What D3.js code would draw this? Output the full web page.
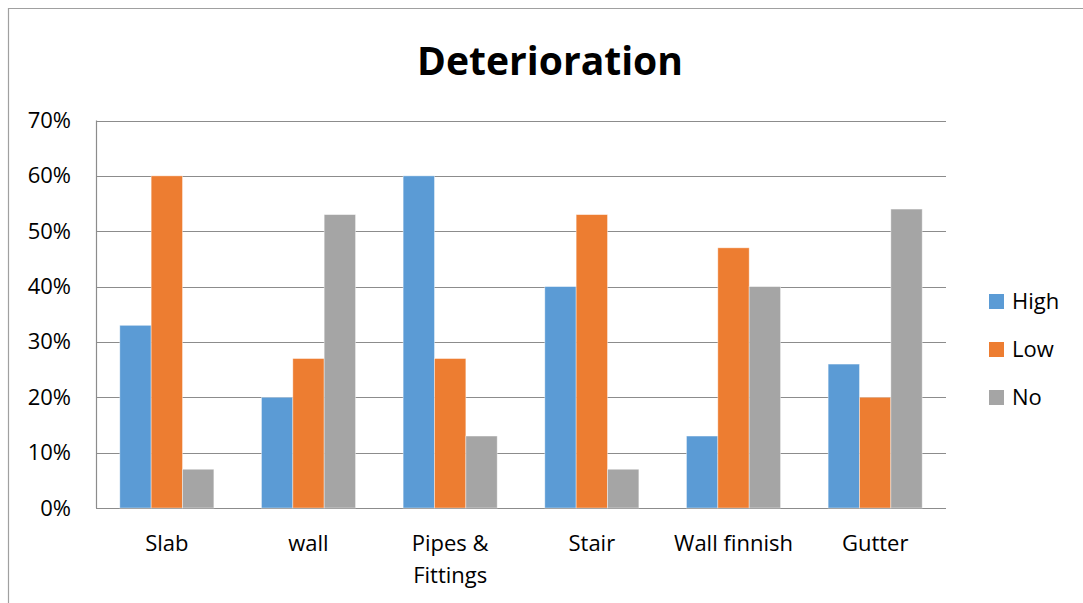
<!DOCTYPE html>
<html><head><meta charset="utf-8">
<script src="https://cdn.jsdelivr.net/npm/d3@7"></script>
<style>body{margin:0;background:#fff}svg{display:block}text{font-family:"Open Sans","Noto Sans",sans-serif;fill:#000}</style>
</head><body><svg id="c" width="1083" height="603"></svg>
<script>
const categories = ["Slab", "wall", "Pipes & Fittings", "Stair", "Wall finnish", "Gutter"];
const seriesNames = ["High", "Low", "No"];
const high = [0.33, 0.20, 0.60, 0.40, 0.13, 0.26];
const low  = [0.60, 0.27, 0.27, 0.53, 0.47, 0.20];
const no   = [0.07, 0.53, 0.13, 0.07, 0.40, 0.54];
const yTicks = [0, 0.1, 0.2, 0.3, 0.4, 0.5, 0.6, 0.7];
const colors = ["#5B9BD5", "#ED7D31", "#A5A5A5"];
const values = [high, low, no];

const svg = d3.select("#c");
const L = 96, R = 946, T = 120.5, B = 508;
const FS = 22;

// outer border
svg.append("path").attr("d", "M8.5,603 V8.5 H1083").attr("fill", "none").attr("stroke", "#A0A0A0").attr("stroke-width", 1.2);

svg.append("text").attr("x", 550).attr("y", 75).attr("text-anchor", "middle")
  .attr("font-size", 39).attr("font-weight", "bold").attr("textLength", 266).attr("lengthAdjust", "spacingAndGlyphs")
  .text("Deterioration");

const y = d3.scaleLinear().domain([0, 0.7]).range([B, T]);
const x0 = d3.scaleBand().domain(categories).range([L, R]);
const gapHalf = x0.bandwidth() * 0.168;
const x1 = d3.scaleBand().domain(seriesNames).range([gapHalf, x0.bandwidth() - gapHalf]);

// gridlines
svg.append("g").selectAll("line").data(yTicks).join("line")
  .attr("x1", L).attr("x2", R).attr("y1", d => Math.round(y(d)) + 0.5).attr("y2", d => Math.round(y(d)) + 0.5)
  .attr("stroke", "#8C8C8C").attr("stroke-width", 1.2);
svg.append("line").attr("x1", L + 0.5).attr("x2", L + 0.5).attr("y1", T).attr("y2", B).attr("stroke", "#8C8C8C").attr("stroke-width", 1.2);

// bars
const data = [];
categories.forEach((c, i) => seriesNames.forEach((s, j) => data.push({c, s, v: values[j][i], j})));
svg.append("g").selectAll("rect").data(data).join("rect")
  .attr("x", d => x0(d.c) + x1(d.s)).attr("width", x1.bandwidth())
  .attr("y", d => y(d.v)).attr("height", d => B - y(d.v))
  .attr("fill", d => colors[d.j]).attr("stroke", "#fff").attr("stroke-opacity", 0.5).attr("stroke-width", 0.8);

// y axis labels
const yAxis = d3.axisLeft(y).tickValues(yTicks).tickFormat(d3.format(".0%")).tickSize(0).tickPadding(25);
const ya = svg.append("g").attr("transform", `translate(${L},0)`).call(yAxis);
ya.select(".domain").remove();
ya.selectAll("text").attr("font-size", FS).attr("font-family", '"Open Sans","Noto Sans",sans-serif').attr("fill", "#000");

// x labels
const labelLines = {"Pipes & Fittings": ["Pipes &", "Fittings"]};
const xl = svg.append("g");
categories.forEach(c => {
  const lines = labelLines[c] || [c];
  const t = xl.append("text").attr("x", x0(c) + x0.bandwidth() / 2).attr("y", 551).attr("text-anchor", "middle").attr("font-size", FS);
  lines.forEach((ln, k) => t.append("tspan").attr("x", x0(c) + x0.bandwidth() / 2).attr("dy", k ? 32 : 0).text(ln));
});

// legend
const lg = svg.append("g");
seriesNames.forEach((s, j) => {
  const cy = 301.5 + j * 48;
  lg.append("rect").attr("x", 989).attr("y", cy - 7.5).attr("width", 15).attr("height", 15).attr("fill", colors[j]);
  lg.append("text").attr("x", 1012).attr("y", cy).attr("dy", "0.35em").attr("font-size", FS).text(s);
});
</script></body></html>
